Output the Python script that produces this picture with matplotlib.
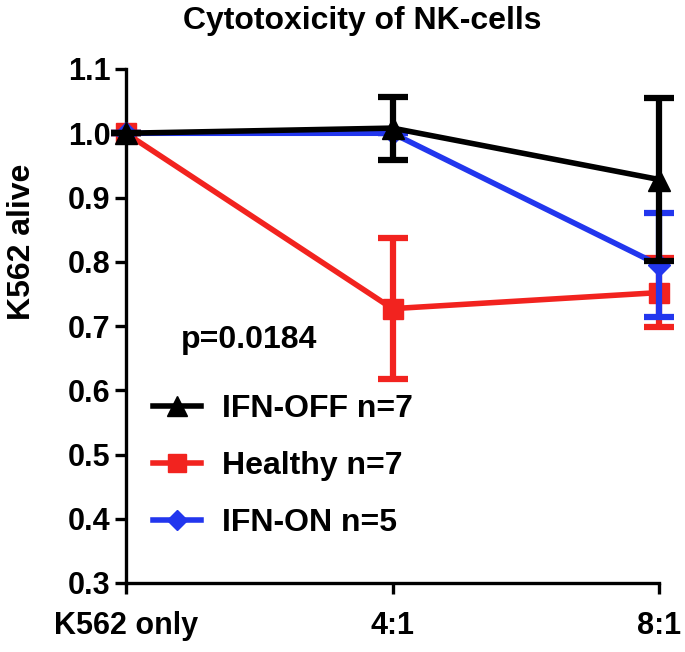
import matplotlib

matplotlib.use("Agg")
import matplotlib.pyplot as plt

plt.rcParams["font.family"] = ["Liberation Sans", "DejaVu Sans"]
plt.rcParams["font.weight"] = "bold"

categories = ["K562 only", "4:1", "8:1"]
ifn_off = [1.0, 1.008, 0.928]
ifn_off_err = [0.0, 0.049, 0.127]
healthy = [1.0, 0.727, 0.752]
healthy_err = [0.0, 0.11, 0.054]
ifn_on = [1.0, 1.0, 0.795]
ifn_on_err = [0.0, 0.0, 0.081]

W, H = 685, 652
fig = plt.figure(figsize=(W / 100, H / 100), dpi=100)
ax = fig.add_axes([126 / W, 1 - 583 / H, (659 - 126) / W, (583 - 69) / H])

x = list(range(len(categories)))
series = [
    (healthy, healthy_err, "#f2231f", "s", 15, "Healthy n=7", 2),
    (ifn_on, ifn_on_err, "#2236ee", "D", 11, "IFN-ON n=5", 3),
    (ifn_off, ifn_off_err, "black", "^", 16, "IFN-OFF n=7", 4),
]
handles = {}
for vals, err, color, marker, ms, label, z in series:
    cont = ax.errorbar(x, vals, yerr=err, color=color, marker=marker, markersize=ms,
                       linewidth=4, elinewidth=4.5, capsize=11, capthick=4.5,
                       zorder=z, clip_on=False, label=label)
    handles[label] = cont[0]

# legend sits inside the plot, lower left
order = ["IFN-OFF n=7", "Healthy n=7", "IFN-ON n=5"]
fig.legend([handles[k] for k in order], order, loc="upper left",
           bbox_to_anchor=(153 / W, 1 - 394 / H), frameon=False, fontsize=23,
           handlelength=1.5, handletextpad=0.65, labelspacing=0.85,
           borderpad=0, borderaxespad=0, markerscale=0.9)

fig.text(181 / W, 1 - 340 / H, "p=0.0184", fontsize=23, fontweight="bold",
         ha="left", va="center")

ax.set_xlim(0, 2)
ax.set_ylim(0.3, 1.1)
ax.set_xticks(x)
ax.set_xticklabels(categories)
ax.set_yticks([0.3, 0.4, 0.5, 0.6, 0.7, 0.8, 0.9, 1.0, 1.1])
ax.set_yticklabels(["0.3", "0.4", "0.5", "0.6", "0.7", "0.8", "0.9", "1.0", "1.1"])
ax.tick_params(axis="both", labelsize=22, width=2.4, length=8, direction="out")
ax.tick_params(axis="x", pad=12)
ax.tick_params(axis="y", pad=3)
for lbl in ax.get_xticklabels() + ax.get_yticklabels():
    lbl.set_fontweight("bold")

for side in ("top", "right"):
    ax.spines[side].set_visible(False)
for side in ("left", "bottom"):
    ax.spines[side].set_linewidth(2.4)

fig.text(22 / W, 1 - 242 / H, "K562 alive", fontsize=23, fontweight="bold",
         rotation=90, ha="center", va="center")
fig.text(362 / W, 1 - 21 / H, "Cytotoxicity of NK-cells", fontsize=23,
         fontweight="bold", ha="center", va="center")

fig.savefig("out.png", dpi=100)
plt.close(fig)
